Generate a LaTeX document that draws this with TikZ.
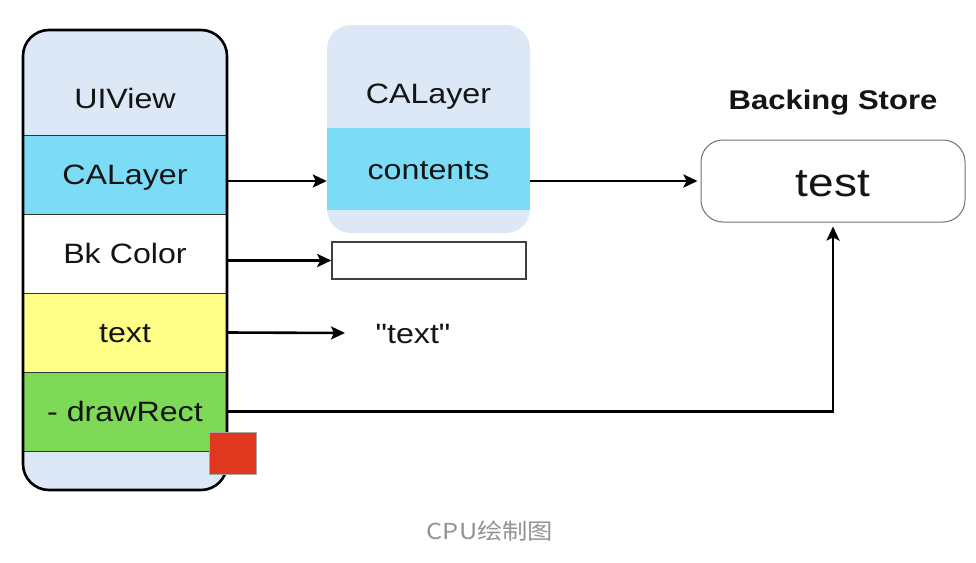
\documentclass[tikz,border=0pt]{standalone}
\usepackage{fontspec}
\setmainfont{Liberation Sans}
\newfontfamily\plainq{Liberation Sans}[Ligatures=TeXOff]
\newfontfamily\cjk{Noto Sans CJK SC}
\usetikzlibrary{arrows.meta}
\definecolor{lightbg}{HTML}{DCE8F5}
\definecolor{cyanc}{HTML}{7CDCF6}
\definecolor{yellowc}{HTML}{FFFF88}
\definecolor{greenc}{HTML}{7ED957}
\definecolor{redc}{HTML}{E0381E}
\definecolor{txt}{HTML}{141414}
\newcommand\wt[1]{\scalebox{1.15}[1]{#1}}
\tikzset{
  stripe/.style={draw=black!80, line width=0.8pt, minimum width=204pt, minimum height=79pt, inner sep=0pt, text=txt, font=\fontsize{28}{30}\selectfont, text height=20pt, text depth=0pt},
  lbl/.style={text=txt, inner sep=0pt, font=\fontsize{28}{30}\selectfont, text height=20pt, text depth=0pt},
  arr/.style={line width=2.6pt, -{Stealth[length=14pt,width=13pt,inset=3pt]}},
}
\begin{document}
\begin{tikzpicture}[x=1pt,y=-1pt]
\useasboundingbox (0,0) rectangle (976,562);
\fill[white] (0,0) rectangle (976,562);
% left UIView box
\begin{scope}
\clip[rounded corners=26pt] (23,30) rectangle (227,490);
\fill[lightbg] (23,30) rectangle (227,490);
\node[stripe, fill=cyanc] (ca) at (125,174.5) {\wt{CALayer}};
\node[stripe, fill=white] (bk) at (125,253.5) {\wt{Bk Color}};
\node[stripe, fill=yellowc] (tx) at (125,332.5) {\wt{text}};
\node[stripe, fill=greenc] (dr) at (125,411.5) {\wt{- drawRect}};
\end{scope}
\node[lbl] (uiv) at (125,98) {\wt{UIView}};
\draw[line width=2.6pt, rounded corners=26pt] (23,30) rectangle (227,490);
\node[draw=gray!70, line width=1pt, fill=redc, minimum width=47pt, minimum height=42pt, inner sep=0pt] (red) at (233,453) {};
% CALayer box
\node[fill=lightbg, rounded corners=24pt, minimum width=203pt, minimum height=208pt, inner sep=0pt] (layer) at (428.5,129) {};
\node[fill=cyanc, minimum width=203pt, minimum height=82pt, inner sep=0pt, lbl] (contents) at (428.5,169) {\wt{contents}};
\node[lbl] (caltitle) at (428.5,93) {\wt{CALayer}};
\node[draw=black!75, line width=1.5pt, fill=white, minimum width=194pt, minimum height=37pt, inner sep=0pt] (wr) at (429,260.5) {};
\node[lbl] (tq) at (413,333) {\wt{\plainq "text"}};
% backing store
\node[text=txt, inner sep=0pt, font=\fontsize{27}{29}\selectfont\bfseries, text height=19.5pt, text depth=0pt] (bs) at (833,100) {\wt{Backing Store}};
\node[draw=black!55, line width=1pt, rounded corners=22pt, minimum width=264pt, minimum height=82pt, inner sep=0pt] (test) at (833,181) {};
\node[text=txt, inner sep=0pt, font=\fontsize{40}{42}\selectfont, text height=29pt, text depth=0pt] (testlbl) at (833,181.5) {\wt{test}};
% connectors
\coordinate (a1) at (0,181);
\coordinate (t3) at (345,333);
\draw[arr] (ca.east|-a1) -- (contents.west|-a1);
\draw[arr, shorten >=3pt] (contents.east|-test.west) -- (test.west);
\draw[arr] (bk.east|-wr.west) -- (wr.west);
\draw[arr] (tx.east) -- (t3);
\draw[arr, shorten >=4pt] (dr.east) -- (dr.east -| test.south) -- (test.south);
% caption
\node[text=gray!85, inner sep=0pt, font=\fontsize{22}{24}\selectfont\cjk] (cap) at (490,531) {\wt{CPU绘制图}};
\end{tikzpicture}
\end{document}
